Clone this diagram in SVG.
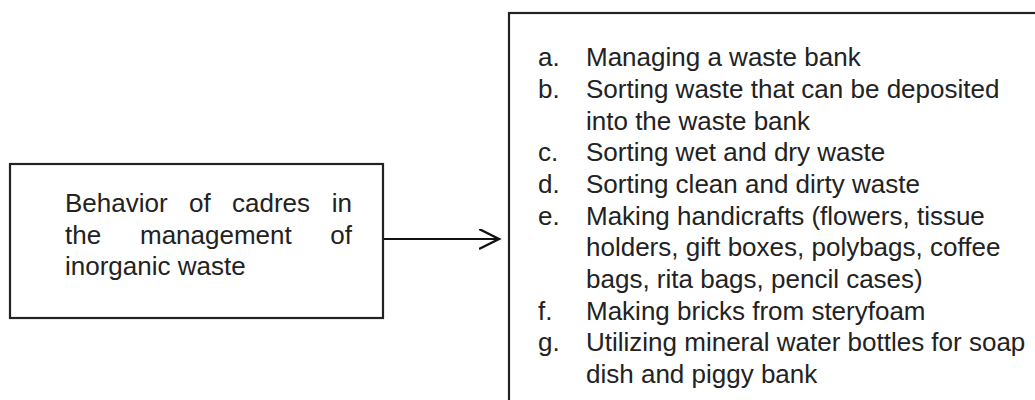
<svg xmlns="http://www.w3.org/2000/svg" width="1035" height="400" viewBox="0 0 1035 400">
<style>
.box{fill:#fff;stroke:#222;stroke-width:2.2}
.t{font-family:"Liberation Sans",Arial,sans-serif;font-size:26px;fill:#222}
.e{text-anchor:end}
.conn{fill:none;stroke:#111;stroke-width:2.2}
</style>
<defs>
<marker id="arr" markerWidth="24" markerHeight="24" refX="20" refY="10" orient="auto" markerUnits="userSpaceOnUse">
<path d="M0,0 L20,10 L0,20" fill="none" stroke="#111" stroke-width="2.4"/>
</marker>
</defs>
<rect width="1035" height="400" fill="#fff"/>
<g id="node-behavior">
<rect class="box" x="10" y="164" width="373" height="154"/>
<text class="t" x="65" y="212">Behavior</text>
<text class="t" x="189" y="212">of</text>
<text class="t" x="232" y="212">cadres</text>
<text class="t e" x="352" y="212">in</text>
<text class="t" x="65" y="243.5">the</text>
<text class="t" x="140" y="243.5">management</text>
<text class="t e" x="352" y="243.5">of</text>
<text class="t" x="65" y="275">inorganic waste</text>
</g>
<g id="node-list">
<rect class="box" x="509" y="13" width="600" height="500"/>
<text class="t" x="538" y="66">a.</text><text class="t" x="586" y="66">Managing a waste bank</text>
<text class="t" x="538" y="98">b.</text><text class="t" x="586" y="98">Sorting waste that can be deposited</text>
<text class="t" x="586" y="130">into the waste bank</text>
<text class="t" x="538" y="161">c.</text><text class="t" x="586" y="161">Sorting wet and dry waste</text>
<text class="t" x="538" y="193">d.</text><text class="t" x="586" y="193">Sorting clean and dirty waste</text>
<text class="t" x="538" y="225">e.</text><text class="t" x="586" y="225">Making handicrafts (flowers, tissue</text>
<text class="t" x="586" y="256">holders, gift boxes, polybags, coffee</text>
<text class="t" x="586" y="288">bags, rita bags, pencil cases)</text>
<text class="t" x="538" y="320">f.</text><text class="t" x="586" y="320">Making bricks from steryfoam</text>
<text class="t" x="538" y="351">g.</text><text class="t" x="586" y="351">Utilizing mineral water bottles for soap</text>
<text class="t" x="586" y="383">dish and piggy bank</text>
</g>
<g id="connectors">
<path class="conn" d="M384,239 L499,239" marker-end="url(#arr)"/>
</g>
</svg>
